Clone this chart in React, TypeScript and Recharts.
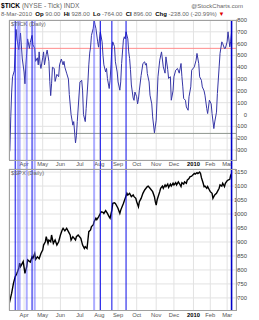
import React from 'react';
import { LineChart, Line, XAxis, YAxis, CartesianGrid, ReferenceLine } from 'recharts';

const FONT = '"Liberation Sans", Arial, sans-serif';

// Trading-day index 0 = 9-Mar-2009, 251 = 8-Mar-2010
const monthTickDays = [17, 38, 58, 80, 102, 123, 144, 166, 186, 208, 227, 246];
const monthTickLabels = ['Apr', 'May', 'Jun', 'Jul', 'Aug', 'Sep', 'Oct', 'Nov', 'Dec', '2010', 'Feb', 'Mar'];

const tickAxisTicks = [-300, -200, -100, 0, 100, 200, 300, 400, 500, 600, 700, 800];
const spxAxisTicks = [700, 750, 800, 850, 900, 950, 1000, 1050, 1100, 1150];

const tickDays = [0, 1, 2, 3, 4, 6, 8, 9, 11, 12, 13, 14, 15, 17, 18, 19, 20, 21, 23, 24, 26, 27, 29, 30, 32, 33, 34, 35, 36, 38, 39, 40, 42, 43, 45, 46, 47, 48, 49, 51, 52, 54, 56, 57, 59, 61, 62, 63, 65, 67, 68, 70, 72, 73, 75, 76, 77, 79, 80, 82, 83, 84, 86, 87, 89, 90, 91, 92, 93, 95, 96, 97, 98, 100, 101, 102, 103, 105, 106, 107, 109, 110, 111, 113, 114, 115, 116, 117, 119, 120, 122, 123, 125, 126, 127, 129, 130, 131, 132, 134, 135, 136, 137, 138, 140, 141, 142, 144, 145, 146, 147, 149, 151, 153, 154, 155, 156, 158, 159, 161, 162, 164, 166, 168, 170, 172, 174, 176, 177, 179, 180, 182, 183, 185, 186, 188, 190, 192, 194, 195, 196, 197, 199, 200, 202, 203, 205, 206, 209, 211, 212, 214, 215, 217, 218, 220, 221, 223, 224, 226, 228, 229, 231, 232, 234, 235, 237, 238, 240, 241, 243, 244, 246, 247, 249, 250, 251];
const tickValues = [-340, -300, -20, 190, 320, 370, 720, 640, 550, 620, 690, 580, 470, 360, 260, 420, 520, 640, 560, 610, 670, 590, 560, 450, 480, 420, 530, 430, 390, 480, 530, 420, 510, 545, 450, 280, 160, 260, 400, 390, 280, 340, 320, 420, 470, 420, 450, 400, 350, 300, 170, 0, -90, -60, -240, -180, -60, 165, 275, 290, 200, 0, -60, 50, 275, 420, 520, 570, 670, 730, 800, 760, 730, 615, 570, 640, 700, 615, 500, 420, 360, 390, 305, 220, 290, 420, 560, 615, 575, 446, 360, 276, 206, 276, 432, 630, 658, 640, 700, 640, 530, 475, 380, 250, 140, 120, 190, 150, 90, 130, 206, 330, 432, 446, 418, 432, 347, 276, 164, 90, -20, -155, -48, 319, 460, 530, 403, 350, 488, 380, 305, 320, 121, 200, 319, 375, 390, 350, 432, 320, 234, 136, 120, 64, 36, 150, 234, 375, 403, 460, 517, 430, 319, 290, 234, 200, 164, 51, 8, 121, 90, 8, -119, -63, 20, 178, 403, 517, 615, 600, 559, 560, 615, 700, 573, 620, 700];

const spxDays = [0, 3, 5, 7, 9, 11, 12, 13, 16, 18, 20, 21, 24, 26, 27, 29, 30, 32, 34, 36, 38, 39, 41, 42, 44, 45, 47, 48, 50, 52, 54, 56, 58, 60, 61, 63, 65, 67, 69, 70, 72, 75, 76, 78, 81, 83, 85, 86, 88, 89, 90, 92, 93, 95, 96, 98, 99, 101, 103, 104, 106, 107, 109, 111, 113, 114, 116, 117, 119, 120, 122, 123, 125, 126, 129, 131, 133, 134, 136, 138, 140, 141, 143, 144, 146, 147, 149, 151, 153, 156, 157, 159, 162, 164, 165, 166, 167, 170, 171, 173, 174, 176, 177, 179, 180, 182, 183, 185, 186, 188, 189, 191, 192, 194, 195, 197, 198, 200, 201, 203, 204, 206, 207, 209, 210, 212, 213, 215, 216, 217, 219, 220, 221, 223, 224, 226, 227, 229, 230, 232, 234, 235, 237, 238, 240, 241, 243, 244, 246, 247, 249, 250, 251];
const spxValues = [676, 717, 752, 776, 788, 806, 824, 812, 830, 788, 812, 836, 828, 847, 842, 859, 838, 847, 840, 859, 871, 889, 901, 919, 895, 907, 901, 925, 895, 907, 889, 901, 925, 943, 949, 940, 949, 937, 925, 907, 919, 907, 919, 925, 913, 889, 877, 883, 877, 907, 937, 943, 955, 961, 973, 985, 980, 990, 1002, 1008, 1006, 1002, 1012, 1002, 990, 985, 1014, 1038, 1040, 1038, 1026, 1020, 1002, 1014, 1038, 1056, 1074, 1068, 1074, 1062, 1068, 1062, 1056, 1044, 1026, 1044, 1056, 1074, 1086, 1098, 1100, 1092, 1080, 1062, 1044, 1032, 1050, 1080, 1092, 1100, 1092, 1104, 1098, 1107, 1095, 1107, 1100, 1110, 1104, 1112, 1104, 1115, 1110, 1098, 1112, 1107, 1115, 1110, 1121, 1127, 1133, 1135, 1139, 1145, 1143, 1148, 1145, 1150, 1145, 1130, 1110, 1098, 1100, 1092, 1098, 1086, 1080, 1074, 1056, 1068, 1074, 1080, 1092, 1104, 1100, 1110, 1098, 1110, 1119, 1121, 1124, 1139, 1145];

const signalDaysStrong = [7, 26, 103, 116, 132];
const signalDaysLight = [10, 12, 20, 29, 96];
const lastDay = 251;
const tickUpperLevel = 560;
const tickLowerLevel = -160;

const tickData = tickDays.map((d, i) => ({ day: d, tick: tickValues[i] }));
const spxData = spxDays.map((d, i) => ({ day: d, spx: spxValues[i] }));
const gapData = [{ day: 0, v: 0 }, { day: 256, v: 1 }];

const X_DOMAIN: [number, number] = [0, 256];

function MonthTick(props: any) {
  const { x, y, payload } = props;
  const idx = monthTickDays.indexOf(payload.value);
  const label = idx >= 0 ? monthTickLabels[idx] : '';
  const isYear = /^\d{4}$/.test(label);
  return (
    <text x={x} y={y + 6} textAnchor="middle" fontSize={5.8} fontFamily={FONT}
      fill={isYear ? '#000' : '#555'} fontWeight={isYear ? 'bold' : 'normal'}>{label}</text>
  );
}

function ValueTick(props: any) {
  const { x, y, payload } = props;
  return (
    <text x={x + 9} y={y + 2} textAnchor="end" fontSize={5.8} fontFamily={FONT} fill="#444">{payload.value}</text>
  );
}

const frame = (top: number, height: number): React.CSSProperties => ({
  position: 'absolute', left: 9, top, width: 228, height, boxSizing: 'border-box',
  border: '1px solid #a0a0a0', pointerEvents: 'none',
});

function signalLines() {
  return [
    ...signalDaysLight.map((d) => (
      <ReferenceLine key={'l' + d} x={d} stroke="#5a5aff" strokeOpacity={0.5} strokeWidth={2} />
    )),
    ...signalDaysStrong.map((d) => (
      <ReferenceLine key={'s' + d} x={d} stroke="#0a0ae6" strokeWidth={1} />
    )),
    <ReferenceLine key="last" x={lastDay} stroke="#0000c8" strokeWidth={1.6} />,
  ];
}

export default function App() {
  return (
    <div style={{ position: 'absolute', left: 0, top: 0, width: 259, height: 320, background: '#fff', overflow: 'hidden' }}>
      <div style={{ position: 'absolute', left: 0, top: 0 }}>
        <LineChart width={259} height={168} data={tickData} margin={{ top: 20, right: 0, bottom: 0, left: 9 }}>
          <CartesianGrid stroke="#e2e2e2" strokeWidth={1} />
          <XAxis dataKey="day" type="number" domain={X_DOMAIN} ticks={monthTickDays} interval={0}
            allowDataOverflow tickLine={false} axisLine={false} tickSize={0} tickMargin={0} height={8} tick={<MonthTick />} />
          <YAxis orientation="right" type="number" domain={[-385, 800]} ticks={tickAxisTicks} interval={0}
            allowDataOverflow width={23} axisLine={false} tickSize={2} tickMargin={0} tickLine={{ stroke: '#999' }} tick={<ValueTick />} />
          <ReferenceLine y={tickUpperLevel} stroke="#ff8c8c" strokeWidth={1} />
          <ReferenceLine y={tickLowerLevel} stroke="#8e968e" strokeWidth={1} />
          <Line type="linear" dataKey="tick" stroke="#3636a6" strokeWidth={1} dot={false} isAnimationActive={false} />
          {signalLines()}
        </LineChart>
      </div>
      <div style={{ position: 'absolute', left: 0, top: 160 }}>
        <LineChart width={259} height={160} data={spxData} margin={{ top: 9, right: 0, bottom: 0, left: 9 }}>
          <CartesianGrid stroke="#e2e2e2" strokeWidth={1} />
          <XAxis dataKey="day" type="number" domain={X_DOMAIN} ticks={monthTickDays} interval={0}
            allowDataOverflow tickLine={false} axisLine={false} tickSize={0} tickMargin={0} height={9.5} tick={<MonthTick />} />
          <YAxis orientation="right" type="number" domain={[655, 1161]} ticks={spxAxisTicks} interval={0}
            allowDataOverflow width={23} axisLine={false} tickSize={2} tickMargin={0} tickLine={{ stroke: '#999' }} tick={<ValueTick />} />
          <Line type="linear" dataKey="spx" stroke="#000" strokeWidth={1.4} dot={false} isAnimationActive={false} />
          {signalLines()}
        </LineChart>
      </div>
      <div style={{ position: 'absolute', left: 0, top: 160, pointerEvents: 'none' }}>
        <LineChart width={259} height={9} data={gapData} margin={{ top: 0, right: 23, bottom: 0, left: 9 }}>
          <XAxis dataKey="day" type="number" domain={X_DOMAIN} hide />
          <YAxis type="number" domain={[0, 1]} hide />
          <Line type="linear" dataKey="v" stroke="none" dot={false} isAnimationActive={false} />
          {signalLines()}
        </LineChart>
      </div>
      <div style={frame(20, 141)} />
      <div style={frame(169, 142)} />
      <svg width={259} height={320} style={{ position: 'absolute', left: 0, top: 0, pointerEvents: 'none' }} fontFamily={FONT}>
        <text x={1} y={7.5} fontSize={6.6}>
          <tspan fontWeight="bold" fill="#000">$TICK</tspan>
          <tspan fill="#666"> (NYSE - Tick) INDX</tspan>
        </text>
        <text x={243} y={7.5} fontSize={6} fill="#666" textAnchor="end">@StockCharts.com</text>
        <text x={1} y={15.5} fontSize={6} fill="#666" xmlSpace="preserve">
          <tspan>8-Mar-2010  </tspan>
          <tspan fontWeight="bold" fill="#000">Op</tspan><tspan> 90.00  </tspan>
          <tspan fontWeight="bold" fill="#000">Hi</tspan><tspan> 928.00  </tspan>
          <tspan fontWeight="bold" fill="#000">Lo</tspan><tspan> -764.00  </tspan>
          <tspan fontWeight="bold" fill="#000">Cl</tspan><tspan> 896.00  </tspan>
          <tspan fontWeight="bold" fill="#000">Chg</tspan><tspan> -238.00 (-20.99%)</tspan>
          <tspan fill="#e00000"> ▼</tspan>
        </text>
        <text x={11} y={25.5} fontSize={5.8} fill="#666">$TICK (Daily)</text>
        <text x={11} y={175} fontSize={5.8} fill="#666">$SPX (Daily)</text>
      </svg>
    </div>
  );
}
